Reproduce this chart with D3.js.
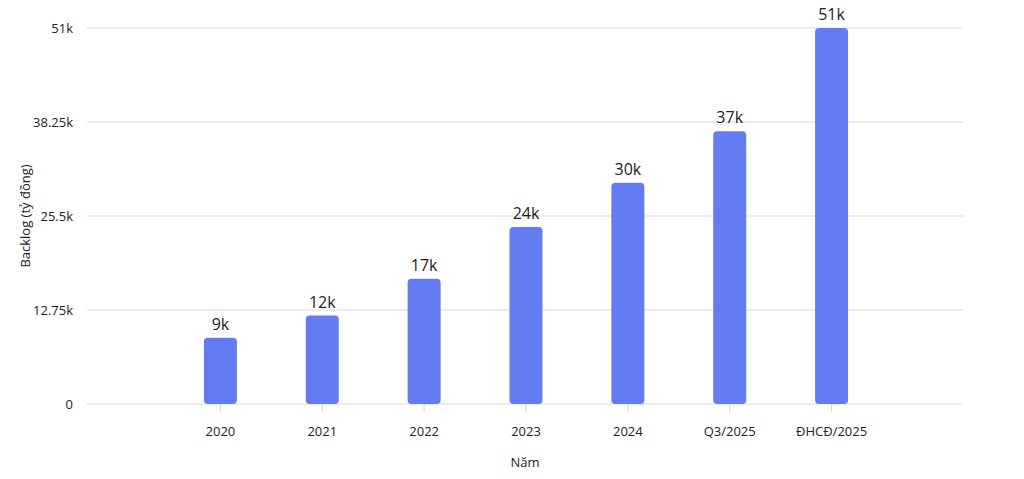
<!DOCTYPE html>
<html><head><meta charset="utf-8">
<script src="https://cdn.jsdelivr.net/npm/d3@7"></script>
<style>body{margin:0;background:#fff;}svg{display:block;font-family:"Open Sans","Noto Sans",sans-serif;}</style>
</head><body><svg id="c" width="1024" height="479"></svg>
<script>
const categories = ["2020","2021","2022","2023","2024","Q3/2025","ĐHCĐ/2025"];
const values = [9000,12000,17000,24000,30000,37000,51000];
const valueLabels = ["9k","12k","17k","24k","30k","37k","51k"];
const yTicks = [0,12750,25500,38250,51000];
const yTickLabels = ["0","12.75k","25.5k","38.25k","51k"];

(function(){
const svg = d3.select("#c");
const pL=87,pR=963,pT=28,pB=404;
const x = d3.scalePoint().domain(categories).range([pL+1,pR+1]).padding(1.3);
const y = d3.scaleLinear().domain([0,51000]).range([pB,pT]);

svg.append("g").selectAll("line").data(yTicks).join("line")
  .attr("x1",pL).attr("x2",pR).attr("y1",d=>y(d)).attr("y2",d=>y(d))
  .attr("stroke","#d9d9d9").attr("stroke-width",1.2);
svg.append("g").selectAll("text").data(yTicks).join("text")
  .attr("x",73).attr("y",d=>y(d)).attr("dy","0.35em").attr("text-anchor","end")
  .attr("font-size",13).attr("fill","#222").text((d,i)=>yTickLabels[i]);
svg.append("g").selectAll("line").data(categories).join("line")
  .attr("x1",d=>x(d)).attr("x2",d=>x(d)).attr("y1",pB).attr("y2",pB+8)
  .attr("stroke","#d9d9d9").attr("stroke-width",1.2);
svg.append("g").selectAll("text").data(categories).join("text")
  .attr("x",d=>x(d)).attr("y",436).attr("text-anchor","middle")
  .attr("font-size",13).attr("fill","#222").text(d=>d);
const bw=33;
svg.append("g").selectAll("rect").data(values).join("rect")
  .attr("x",(d,i)=>x(categories[i])-bw/2).attr("width",bw)
  .attr("y",d=>y(d)).attr("height",d=>y(0)-y(d))
  .attr("rx",4).attr("fill","#647cf1");
svg.append("g").selectAll("text").data(values).join("text")
  .attr("x",(d,i)=>x(categories[i])).attr("y",d=>y(d)-8).attr("text-anchor","middle")
  .attr("font-size",16).attr("font-weight",500).attr("fill","#222").text((d,i)=>valueLabels[i]);
svg.append("text").attr("transform","translate(30,216) rotate(-90)").attr("text-anchor","middle")
  .attr("font-size",13).attr("fill","#222").text("Backlog (tỷ đồng)");
svg.append("text").attr("x",525).attr("y",467).attr("text-anchor","middle")
  .attr("font-size",13).attr("fill","#222").text("Năm");
})();
</script></body></html>
